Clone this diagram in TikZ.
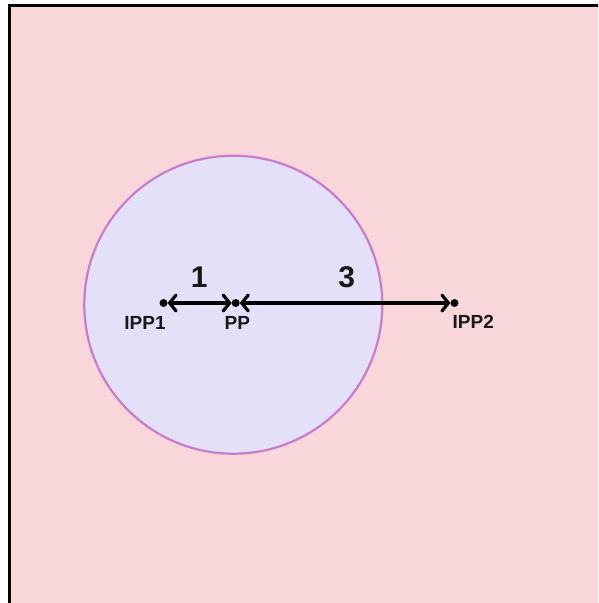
\documentclass[tikz,border=0pt]{standalone}
\usepackage{fontspec}
\setmainfont{Liberation Sans}
\usetikzlibrary{arrows.meta}
\definecolor{bgpink}{HTML}{F9D6DA}
\definecolor{lav}{HTML}{E3E0F8}
\definecolor{orch}{HTML}{C97BCD}
\tikzset{
  dot/.style={circle,fill=black,inner sep=0pt,outer sep=0pt,minimum size=8pt},
  lab/.style={font=\fontsize{19}{21}\selectfont\bfseries,text=black!90},
  num/.style={font=\fontsize{30}{32}\selectfont\bfseries,text=black!90},
  dist/.style={line width=3.2pt,line cap=round,{Straight Barb[length=6.5pt,width=16pt,line cap=round]}-{Straight Barb[length=6.5pt,width=16pt,line cap=round]}}
}
\begin{document}
\begin{tikzpicture}[x=1pt,y=-1pt]
\useasboundingbox (0,0) rectangle (598,603);
\fill[white] (0,0) rectangle (598,603);
\begin{scope}
\clip (0,0) rectangle (598,603);
\draw[line width=3.5pt,fill=bgpink] (9.5,5.5) rectangle (610,615);
\end{scope}
\node[circle,draw=orch,line width=2.2pt,fill=lav,minimum size=298pt,inner sep=0pt] (circ) at (233.3,304.7) {};
\node[dot] (ipp1) at (163.5,303) {};
\node[dot] (pp) at (235.7,303) {};
\node[dot] (ipp2) at (454.5,303) {};
\draw[dist] (ipp1) -- (pp);
\draw[dist] (pp) -- (ipp2);
\node[num] (n1) at (199.3,277) {1};
\node[num] (n3) at (346.7,277) {3};
\node[lab] (l1) at (145,323) {IPP1};
\node[lab] (l2) at (237.3,323) {PP};
\node[lab] (l3) at (473.3,322) {IPP2};
\end{tikzpicture}
\end{document}
